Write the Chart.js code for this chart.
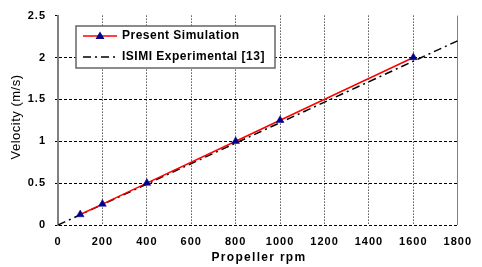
<!DOCTYPE html>
<html>
<head>
<meta charset="utf-8">
<script src="https://cdn.jsdelivr.net/npm/chart.js@4.4.1/dist/chart.umd.min.js"></script>
<style>
html, body { margin: 0; padding: 0; background: #fff; }
canvas { display: block; }
</style>
</head>
<body>
<canvas id="grafico" width="482" height="267"></canvas>
<script>
// --- DADOS ---
const rpmSimulacao = [100, 200, 400, 800, 1000, 1600];
const velSimulacao = [0.125, 0.25, 0.5, 1.0, 1.25, 2.0];
const rpmExperimental = [0, 1800];
const velExperimental = [0, 2.2];
const nomesSeries = ['Present Simulation', 'ISIMI Experimental [13]'];
const ticksX = [0, 200, 400, 600, 800, 1000, 1200, 1400, 1600, 1800];
const ticksY = [0, 0.5, 1, 1.5, 2, 2.5];
const tituloX = 'Propeller rpm';
const tituloY = 'Velocity (m/s)';

const FONTE = 'Arial, "Liberation Sans", sans-serif';
const CINZA = '#808080';
const TRACO_EXP = [8, 4, 2, 4];

// espaçamento de letras (o gráfico original tem texto "aberto")
const espacamento = {
    id: 'espacamento',
    beforeUpdate(chart) { chart.ctx.letterSpacing = '1px'; },
    beforeDraw(chart) { chart.ctx.letterSpacing = '1px'; }
};

// legenda e títulos desenhados à mão
const extras = {
    id: 'extras',
    afterDatasetsDraw(chart) {
        const ctx = chart.ctx;
        ctx.save();

        // caixa da legenda
        ctx.fillStyle = '#fff';
        ctx.fillRect(76, 26, 199, 42);
        ctx.strokeStyle = '#666';
        ctx.lineWidth = 1.5;
        ctx.strokeRect(76, 26, 199, 42);

        // linha 1
        ctx.strokeStyle = '#ff0000';
        ctx.lineWidth = 1.5;
        ctx.beginPath(); ctx.moveTo(83, 36); ctx.lineTo(117, 36); ctx.stroke();
        ctx.fillStyle = '#00008b';
        ctx.beginPath(); ctx.moveTo(100, 31.5); ctx.lineTo(104.5, 39); ctx.lineTo(95.5, 39); ctx.closePath(); ctx.fill();

        // linha 2
        ctx.strokeStyle = '#000';
        ctx.setLineDash(TRACO_EXP);
        ctx.beginPath(); ctx.moveTo(83, 57); ctx.lineTo(117, 57); ctx.stroke();
        ctx.setLineDash([]);

        ctx.fillStyle = '#000';
        ctx.textBaseline = 'middle';
        ctx.textAlign = 'left';
        ctx.letterSpacing = '0.5px';
        ctx.font = 'bold 12px ' + FONTE;
        ctx.fillText(nomesSeries[0], 122, 36);
        ctx.fillText(nomesSeries[1], 122, 57);

        // título X
        ctx.textAlign = 'center';
        ctx.letterSpacing = '1.3px';
        ctx.font = 'bold 12px ' + FONTE;
        ctx.fillText(tituloX, 259, 258);

        // título Y
        ctx.translate(16, 117);
        ctx.rotate(-Math.PI / 2);
        ctx.letterSpacing = '0.5px';
        ctx.font = '13px ' + FONTE;
        ctx.fillText(tituloY, 0, 0);

        ctx.restore();
    }
};

const ctx = document.getElementById('grafico').getContext('2d');
new Chart(ctx, {
    type: 'line',
    data: {
        datasets: [{
            label: nomesSeries[0],
            data: rpmSimulacao.map((x, i) => ({ x, y: velSimulacao[i] })),
            borderColor: '#ff0000',
            borderWidth: 1.5,
            pointStyle: 'triangle',
            pointRadius: 4.5,
            pointBackgroundColor: '#00008b',
            pointBorderColor: '#00008b',
            pointBorderWidth: 0.5,
            tension: 0
        }, {
            label: nomesSeries[1],
            data: rpmExperimental.map((x, i) => ({ x, y: velExperimental[i] })),
            borderColor: '#000',
            borderWidth: 1.5,
            borderDash: TRACO_EXP,
            pointRadius: 0,
            tension: 0
        }]
    },
    options: {
        responsive: false,
        animation: false,
        layout: { padding: { left: 0, top: 14, right: 14, bottom: 0 } },
        plugins: { legend: { display: false }, tooltip: { enabled: false } },
        scales: {
            x: {
                type: 'linear',
                min: 0, max: 1800,
                afterBuildTicks: (s) => { s.ticks = ticksX.map(v => ({ value: v })); },
                afterFit: (s) => { s.height = 42; },
                grid: {
                    drawTicks: false,
                    lineWidth: 1,
                    color: (c) => c.tick && c.tick.value === 0 ? 'rgba(0,0,0,0)' : (c.tick && c.tick.value === 1800 ? CINZA : '#000')
                },
                border: {
                    display: false,
                    dash: (c) => c.tick && c.tick.value === 1800 ? [] : [1, 2]
                },
                ticks: {
                    padding: 10,
                    color: '#000',
                    maxRotation: 0,
                    callback: (v) => String(v),
                    font: { family: FONTE, size: 11, weight: 'bold' }
                }
            },
            y: {
                min: 0, max: 2.5,
                afterBuildTicks: (s) => { s.ticks = ticksY.map(v => ({ value: v })); },
                afterFit: (s) => { s.width = 58; },
                grid: {
                    drawTicks: true,
                    tickLength: 3,
                    lineWidth: 1,
                    color: (c) => c.tick && c.tick.value === 2.5 ? 'rgba(0,0,0,0)' : '#000',
                    tickColor: '#000'
                },
                border: {
                    display: true,
                    color: CINZA,
                    width: 2,
                    dash: (c) => c.tick ? [3, 2] : []
                },
                ticks: {
                    padding: 9,
                    color: '#000',
                    callback: (v) => String(v),
                    font: { family: FONTE, size: 11, weight: 'bold' }
                }
            }
        }
    },
    plugins: [espacamento, extras]
});
</script>
</body>
</html>
